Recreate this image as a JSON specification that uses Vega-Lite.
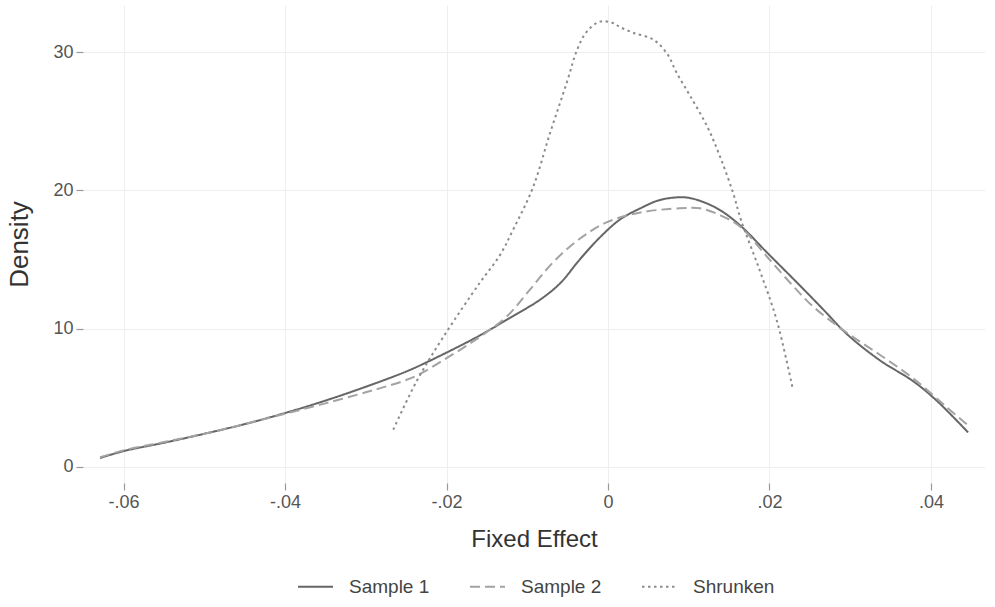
{
  "$schema": "https://vega.github.io/schema/vega-lite/v6.json",
  "width": 902,
  "height": 478,
  "autosize": {"type": "none"},
  "padding": {"left": 83, "top": 5, "right": 10, "bottom": 124},
  "background": "white",
  "config": {
    "font": "Liberation Sans",
    "view": {"stroke": null},
    "axis": {"labelFont": "Liberation Sans", "titleFont": "Liberation Sans", "titleFontWeight": "normal"}
  },
  "datasets": {
    "curves": [
      {"series": "Sample 1", "fe": -0.0629, "density": 0.65},
      {"series": "Sample 1", "fe": -0.06, "density": 1.15},
      {"series": "Sample 1", "fe": -0.055, "density": 1.75},
      {"series": "Sample 1", "fe": -0.05, "density": 2.4},
      {"series": "Sample 1", "fe": -0.045, "density": 3.1},
      {"series": "Sample 1", "fe": -0.04, "density": 3.9},
      {"series": "Sample 1", "fe": -0.035, "density": 4.8},
      {"series": "Sample 1", "fe": -0.03, "density": 5.8},
      {"series": "Sample 1", "fe": -0.025, "density": 6.9},
      {"series": "Sample 1", "fe": -0.022, "density": 7.7},
      {"series": "Sample 1", "fe": -0.0159, "density": 9.5},
      {"series": "Sample 1", "fe": -0.0121, "density": 10.8},
      {"series": "Sample 1", "fe": -0.0084, "density": 12.1},
      {"series": "Sample 1", "fe": -0.0059, "density": 13.3},
      {"series": "Sample 1", "fe": -0.0035, "density": 15.0},
      {"series": "Sample 1", "fe": -0.001, "density": 16.6},
      {"series": "Sample 1", "fe": 0.0015, "density": 17.9},
      {"series": "Sample 1", "fe": 0.004, "density": 18.7},
      {"series": "Sample 1", "fe": 0.0064, "density": 19.3},
      {"series": "Sample 1", "fe": 0.0089, "density": 19.5},
      {"series": "Sample 1", "fe": 0.0105, "density": 19.4},
      {"series": "Sample 1", "fe": 0.0135, "density": 18.7},
      {"series": "Sample 1", "fe": 0.0163, "density": 17.5},
      {"series": "Sample 1", "fe": 0.0197, "density": 15.5},
      {"series": "Sample 1", "fe": 0.0238, "density": 13.1},
      {"series": "Sample 1", "fe": 0.0268, "density": 11.3},
      {"series": "Sample 1", "fe": 0.0296, "density": 9.6},
      {"series": "Sample 1", "fe": 0.0337, "density": 7.7},
      {"series": "Sample 1", "fe": 0.0378, "density": 6.2},
      {"series": "Sample 1", "fe": 0.0407, "density": 4.8},
      {"series": "Sample 1", "fe": 0.0446, "density": 2.5},
      {"series": "Sample 2", "fe": -0.0629, "density": 0.7},
      {"series": "Sample 2", "fe": -0.06, "density": 1.2},
      {"series": "Sample 2", "fe": -0.055, "density": 1.8},
      {"series": "Sample 2", "fe": -0.05, "density": 2.4},
      {"series": "Sample 2", "fe": -0.045, "density": 3.1},
      {"series": "Sample 2", "fe": -0.04, "density": 3.85},
      {"series": "Sample 2", "fe": -0.035, "density": 4.6},
      {"series": "Sample 2", "fe": -0.03, "density": 5.4},
      {"series": "Sample 2", "fe": -0.0282, "density": 5.7},
      {"series": "Sample 2", "fe": -0.0241, "density": 6.5},
      {"series": "Sample 2", "fe": -0.0199, "density": 7.9},
      {"series": "Sample 2", "fe": -0.0159, "density": 9.4},
      {"series": "Sample 2", "fe": -0.0125, "density": 10.9},
      {"series": "Sample 2", "fe": -0.0097, "density": 12.8},
      {"series": "Sample 2", "fe": -0.0068, "density": 14.8},
      {"series": "Sample 2", "fe": -0.0035, "density": 16.5},
      {"series": "Sample 2", "fe": -0.0001, "density": 17.7},
      {"series": "Sample 2", "fe": 0.004, "density": 18.4},
      {"series": "Sample 2", "fe": 0.0089, "density": 18.7},
      {"series": "Sample 2", "fe": 0.0114, "density": 18.7},
      {"series": "Sample 2", "fe": 0.0139, "density": 18.2},
      {"series": "Sample 2", "fe": 0.0163, "density": 17.4},
      {"series": "Sample 2", "fe": 0.0197, "density": 15.2},
      {"series": "Sample 2", "fe": 0.0229, "density": 13.1},
      {"series": "Sample 2", "fe": 0.0254, "density": 11.6},
      {"series": "Sample 2", "fe": 0.0296, "density": 9.7},
      {"series": "Sample 2", "fe": 0.0337, "density": 8.1},
      {"series": "Sample 2", "fe": 0.0378, "density": 6.4},
      {"series": "Sample 2", "fe": 0.042, "density": 4.3},
      {"series": "Sample 2", "fe": 0.0448, "density": 2.9},
      {"series": "Shrunken", "fe": -0.0266, "density": 2.7},
      {"series": "Shrunken", "fe": -0.0237, "density": 6.2},
      {"series": "Shrunken", "fe": -0.0204, "density": 9.4},
      {"series": "Shrunken", "fe": -0.0159, "density": 13.3},
      {"series": "Shrunken", "fe": -0.0134, "density": 15.3},
      {"series": "Shrunken", "fe": -0.0118, "density": 17.1},
      {"series": "Shrunken", "fe": -0.0093, "density": 20.2},
      {"series": "Shrunken", "fe": -0.0072, "density": 24.1},
      {"series": "Shrunken", "fe": -0.0051, "density": 27.8},
      {"series": "Shrunken", "fe": -0.0038, "density": 30.2},
      {"series": "Shrunken", "fe": -0.0026, "density": 31.5},
      {"series": "Shrunken", "fe": -0.001, "density": 32.2},
      {"series": "Shrunken", "fe": 0.0006, "density": 32.1},
      {"series": "Shrunken", "fe": 0.0015, "density": 31.8},
      {"series": "Shrunken", "fe": 0.0031, "density": 31.4},
      {"series": "Shrunken", "fe": 0.0056, "density": 30.9},
      {"series": "Shrunken", "fe": 0.0073, "density": 29.9},
      {"series": "Shrunken", "fe": 0.0085, "density": 28.5},
      {"series": "Shrunken", "fe": 0.0102, "density": 26.8},
      {"series": "Shrunken", "fe": 0.0123, "density": 24.6},
      {"series": "Shrunken", "fe": 0.0139, "density": 22.4},
      {"series": "Shrunken", "fe": 0.0155, "density": 19.8},
      {"series": "Shrunken", "fe": 0.0165, "density": 17.8},
      {"series": "Shrunken", "fe": 0.0188, "density": 14.2},
      {"series": "Shrunken", "fe": 0.0209, "density": 10.6},
      {"series": "Shrunken", "fe": 0.0229, "density": 5.6}
    ]
  },
  "layer": [
    {
      "data": {"name": "curves"},
      "mark": {"type": "line", "interpolate": "catmull-rom", "strokeWidth": 2, "strokeCap": "butt"},
      "encoding": {
        "x": {
          "field": "fe", "type": "quantitative",
          "scale": {"domain": [-0.06502, 0.04669], "nice": false, "zero": false},
          "axis": {
            "values": [-0.06, -0.04, -0.02, 0, 0.02, 0.04],
            "labelExpr": "datum.value == 0 ? '0' : (datum.value < 0 ? '-' : '') + replace(format(abs(datum.value), '.2f'), '0.', '.')",
            "title": "Fixed Effect",
            "grid": true, "gridColor": "#eeeeee", "gridWidth": 1,
            "domain": false,
            "tickColor": "#999999", "tickSize": 7, "tickWidth": 1.2,
            "labelFontSize": 18, "labelColor": "#555555", "labelPadding": 3,
            "titleFontSize": 24, "titleColor": "#333333", "titlePadding": 16
          }
        },
        "y": {
          "field": "density", "type": "quantitative",
          "scale": {"domain": [-1.157, 33.4], "nice": false, "zero": false},
          "axis": {
            "values": [0, 10, 20, 30],
            "title": "Density",
            "grid": true, "gridColor": "#eeeeee", "gridWidth": 1,
            "domain": false,
            "tickColor": "#999999", "tickSize": 7, "tickWidth": 1.2,
            "labelFontSize": 18, "labelColor": "#555555", "labelPadding": 3,
            "titleFontSize": 26, "titleColor": "#333333", "titlePadding": 20
          }
        },
        "color": {
          "field": "series", "type": "nominal",
          "scale": {"domain": ["Sample 1", "Sample 2", "Shrunken"], "range": ["#666666", "#a3a3a3", "#8c8c8c"]},
          "legend": {
            "title": null, "orient": "none", "direction": "horizontal",
            "legendX": 214, "legendY": 563,
            "symbolType": "stroke", "symbolSize": 1225, "symbolStrokeWidth": 2,
            "labelFontSize": 19, "labelColor": "#444444", "labelOffset": 15,
            "columnPadding": 36, "labelFont": "Liberation Sans"
          }
        },
        "strokeDash": {
          "field": "series", "type": "nominal",
          "scale": {"domain": ["Sample 1", "Sample 2", "Shrunken"], "range": [[1, 0], [10, 5], [2.5, 3.5]]},
          "legend": {
            "title": null, "orient": "none", "direction": "horizontal",
            "legendX": 214, "legendY": 563,
            "symbolType": "stroke", "symbolSize": 1225, "symbolStrokeWidth": 2,
            "labelFontSize": 19, "labelColor": "#444444", "labelOffset": 15,
            "columnPadding": 36, "labelFont": "Liberation Sans"
          }
        }
      }
    },
    {
      "mark": {"type": "rule", "color": "#9a9a9a", "strokeWidth": 1.3},
      "encoding": {
        "x": {"datum": -0.06, "type": "quantitative"},
        "x2": {"datum": 0.04},
        "y": {"datum": -1.157, "type": "quantitative"}
      }
    },
    {
      "mark": {"type": "rule", "color": "#9a9a9a", "strokeWidth": 1.3},
      "encoding": {
        "x": {"datum": -0.06502, "type": "quantitative"},
        "y": {"datum": 0, "type": "quantitative"},
        "y2": {"datum": 30}
      }
    }
  ]
}
